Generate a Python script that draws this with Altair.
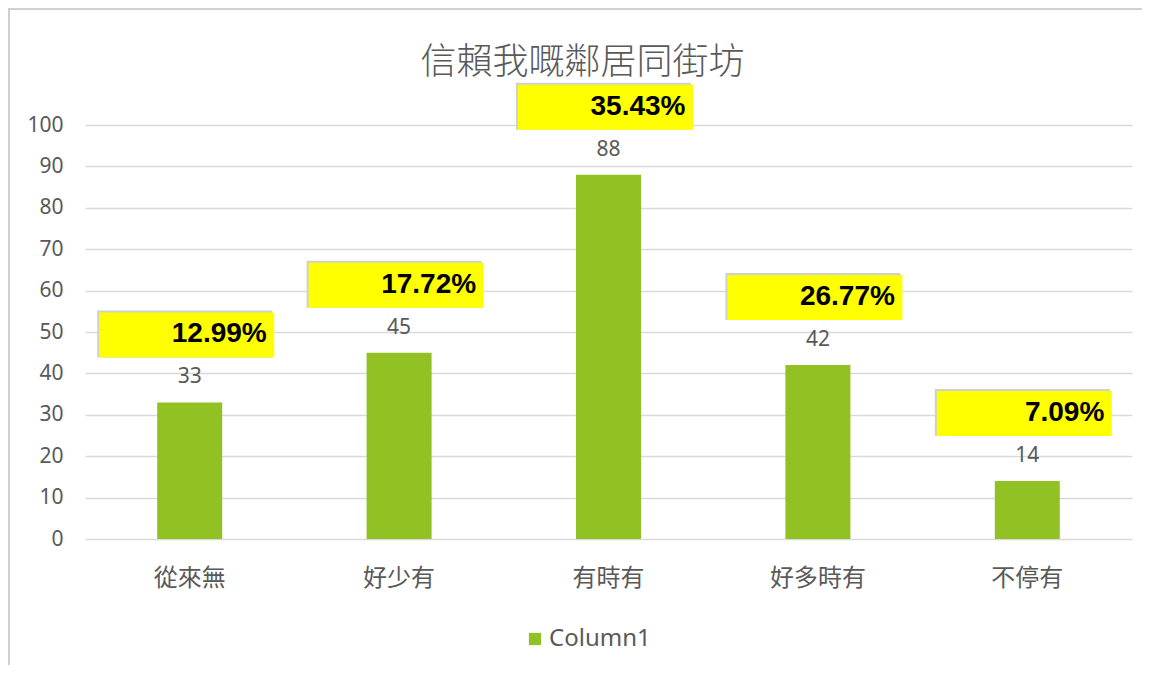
import altair as alt
import pandas as pd

categories = ["從來無", "好少有", "有時有", "好多時有", "不停有"]
values = [33, 45, 88, 42, 14]
pct_labels = ["12.99%", "17.72%", "35.43%", "26.77%", "7.09%"]
series_name = "Column1"
y_ticks = [0, 10, 20, 30, 40, 50, 60, 70, 80, 90, 100]

df = pd.DataFrame({
    "cat": categories,
    "value": values,
    "pct": pct_labels,
    "series": [series_name] * len(categories),
})

GREEN = "#92C123"
TEXT = "#595959"
GRID = "#D9D9D9"

x_enc = alt.X("cat:N", sort=categories, title=None,
              scale=alt.Scale(paddingInner=0, paddingOuter=0),
              axis=alt.Axis(labelAngle=0, labelFontSize=24, labelColor=TEXT,
                            labelFont="Noto Sans CJK TC", labelPadding=27,
                            domain=False, ticks=False, grid=False))
y_enc = alt.Y("value:Q", title=None,
              scale=alt.Scale(domain=[0, 100], nice=False),
              axis=alt.Axis(values=y_ticks, labelFontSize=21, labelColor=TEXT,
                            labelFont="Noto Sans", labelPadding=22,
                            domain=False, ticks=False, grid=True,
                            gridColor=GRID, gridWidth=1.5))

base = alt.Chart(df)

bars = base.mark_bar(width=65, color=GREEN).encode(
    x=x_enc,
    y=y_enc,
    color=alt.Color("series:N",
                    scale=alt.Scale(range=[GREEN]),
                    legend=alt.Legend(title=None, orient="none", legendX=438,
                                      legendY=502, symbolType="square",
                                      symbolSize=150, symbolStrokeWidth=0,
                                      labelFontSize=24, labelColor=TEXT,
                                      labelFont="Noto Sans", labelOffset=2,
                                      padding=0)),
)

box_shadow = base.mark_bar(width=175, xOffset=-5, yOffset=-45, y2Offset=-92,
                           color="#D0D0D0").encode(
    x=alt.X("cat:N", sort=categories), y="value:Q", y2="value:Q")

box = base.mark_bar(width=175, xOffset=-3, yOffset=-45, y2Offset=-90,
                    color="#FFFF00").encode(
    x=alt.X("cat:N", sort=categories), y="value:Q", y2="value:Q")

pct_text = base.mark_text(align="right", baseline="middle", dx=77, dy=-68,
                          fontSize=28, fontWeight="bold",
                          font="Liberation Sans", color="#000000").encode(
    x=alt.X("cat:N", sort=categories), y="value:Q", text="pct:N")

val_text = base.mark_text(align="center", baseline="middle", dy=-25,
                          fontSize=21, font="Noto Sans", color=TEXT).encode(
    x=alt.X("cat:N", sort=categories), y="value:Q", text="value:Q")

frame_data = alt.Data(values=[{"k": 1}])
frame_left = alt.Chart(frame_data).mark_rule(color="#D0D0D0", strokeWidth=2).encode(
    x=alt.value(-76), y=alt.value(-116), y2=alt.value(546))
frame_top = alt.Chart(frame_data).mark_rule(color="#D0D0D0", strokeWidth=2).encode(
    x=alt.value(-77), x2=alt.value(1057), y=alt.value(-116))

chart = alt.layer(frame_left, frame_top, bars, box_shadow, box, pct_text, val_text).properties(
    width=1047,
    height=414,
    title=alt.TitleParams(text="信賴我嘅鄰居同街坊", fontSize=36,
                          font="Noto Sans CJK TC", fontWeight=300,
                          color=TEXT, anchor="middle", dx=-26, offset=-110,
                          baseline="bottom"),
    autosize=alt.AutoSizeParams(type="none"),
    padding={"left": 77, "top": 117, "right": 10, "bottom": 126},
).configure(background="#FFFFFF").configure_view(stroke=None)

chart.save("out.html", embed_options={"renderer": "svg", "actions": False})
